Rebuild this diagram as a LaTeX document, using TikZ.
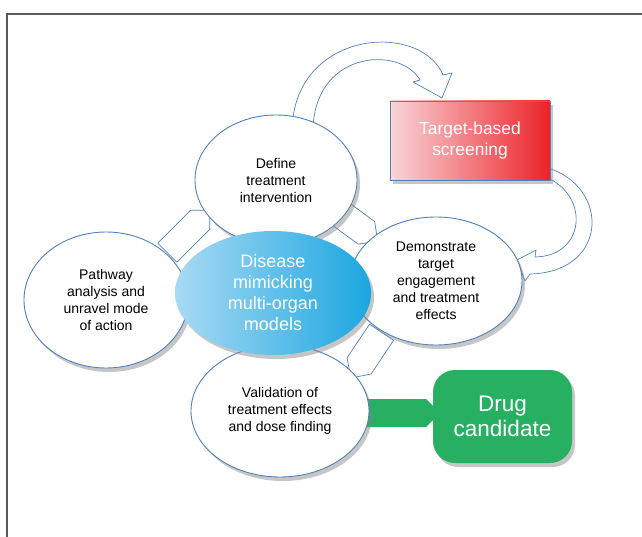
\documentclass[tikz,border=0pt]{standalone}
\usepackage{fontspec}
\setmainfont{Liberation Sans}
\usetikzlibrary{shapes.geometric,shapes.arrows,shadows,backgrounds}
\definecolor{edgeblue}{HTML}{4F81BD}
\definecolor{hubleft}{HTML}{A8DAF4}
\definecolor{hubright}{HTML}{1BA6E0}
\definecolor{pinkleft}{HTML}{F9D6D9}
\definecolor{pinkmid}{HTML}{F3A7AD}
\definecolor{redright}{HTML}{EC2227}
\definecolor{druggreen}{HTML}{27B062}
\definecolor{framegray}{HTML}{5A5A5A}
\begin{document}
\begin{tikzpicture}[x=1pt,y=-1pt,
 stage/.style={ellipse,draw=edgeblue,line width=0.9pt,fill=white,inner sep=0pt,align=center,
  font=\fontsize{14}{17}\selectfont,drop shadow={shadow xshift=3pt,shadow yshift=-4pt,opacity=0.45}},
 blockarr/.style={draw=edgeblue,line width=0.7pt,fill=white,line join=round},
 wedge/.style={single arrow,single arrow head extend=0pt,single arrow tip angle=90,inner sep=0pt,minimum width=27pt}]
 \useasboundingbox (0,0) rectangle (642,537);
 \draw[framegray,line width=1.2pt] (7,537) -- (7,14) -- (642,14);
 \node[stage,minimum width=164pt,minimum height=136pt] (pathway) at (106,300) {Pathway\\analysis and\\unravel mode\\of action};
 \node[stage,minimum width=162pt,minimum height=130pt] (define) at (276,180) {Define\\treatment\\intervention};
 \node[stage,minimum width=172pt,minimum height=128pt] (demo) at (436,281) {Demonstrate\\target\\engagement\\and treatment\\effects};
 \node[stage,minimum width=178pt,minimum height=132pt] (valid) at (280,411) {Validation of\\treatment effects\\and dose finding};
 \node[ellipse,minimum width=196pt,minimum height=124pt,inner sep=0pt,left color=hubleft,right color=hubright,
  text=white,align=center,font=\fontsize{18}{21}\selectfont,
  drop shadow={shadow xshift=3pt,shadow yshift=-4pt,opacity=0.45}] (disease) at (273,293) {Disease\\mimicking\\multi-organ\\models};
 \node[rectangle,draw=edgeblue,line width=0.9pt,minimum width=160pt,minimum height=79pt,
  left color=pinkleft,middle color=pinkmid,right color=redright,text=white,align=center,
  font=\fontsize{17.4}{21}\selectfont,drop shadow={shadow xshift=3pt,shadow yshift=-4pt,opacity=0.45}] (target) at (470,140.5) {Target-based\\screening};
 \node[rectangle,rounded corners=22pt,fill=druggreen,minimum width=139pt,minimum height=93pt,text=white,align=center,
  font=\fontsize{22.5}{25.5}\selectfont,drop shadow={shadow xshift=3pt,shadow yshift=-4pt,opacity=0.45}] (drug) at (502.5,416.5) {Drug\\candidate};
 % block arrows behind the stages
 \begin{scope}[on background layer]
  \draw[blockarr] (292,135) .. controls (290,30) and (420,20) .. (443,75) -- (452,73) -- (442,98) -- (413,82) -- (420,80) .. controls (400,45) and (311,50) .. (313,135) -- cycle;
  \draw[blockarr] (540,166) .. controls (610,180) and (612,272) .. (530,274) -- (525,281) -- (517,260) -- (536,250) -- (535,257) .. controls (588,256) and (590,190) .. (540,175) -- cycle;
  \node[wedge,blockarr,minimum height=60pt,rotate=45] (arr1) at (183.8,236.2) {};
  \node[wedge,blockarr,minimum height=50pt,minimum width=28pt,rotate=-36.4] (arr2) at (351.9,222.2) {};
  \node[wedge,blockarr,minimum height=55pt,minimum width=29pt,rotate=-123.7] (arr3) at (370.3,349.1) {};
  \node[wedge,fill=druggreen,minimum height=85pt,minimum width=28pt] (arr4) at (390.5,413) {};
 \end{scope}
\end{tikzpicture}
\end{document}
